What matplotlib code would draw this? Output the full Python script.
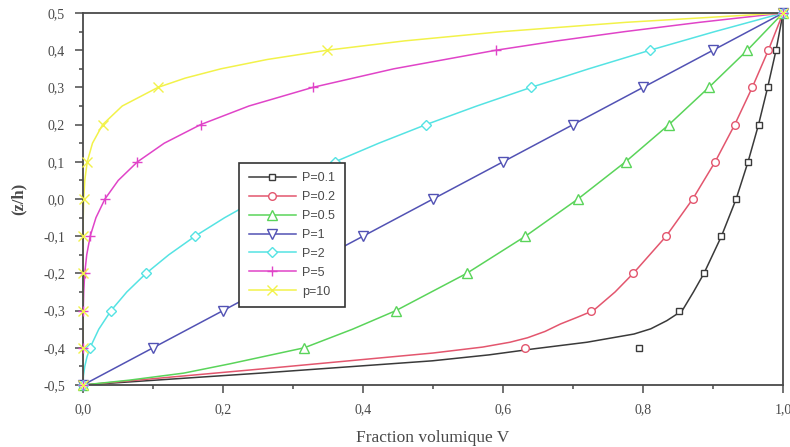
"""Through-thickness volume fraction profiles V(z/h) for several power-law indices."""
import matplotlib

matplotlib.use("Agg")
import matplotlib.pyplot as plt
from matplotlib.lines import Line2D
from matplotlib.ticker import FuncFormatter, MultipleLocator

# marker positions (every 0.1 in z/h)
z_markers = [-0.5, -0.4, -0.3, -0.2, -0.1, 0.0, 0.1, 0.2, 0.3, 0.4, 0.5]
v_p01_markers = [0.0, 0.794, 0.851, 0.887, 0.912, 0.933, 0.950, 0.965, 0.978, 0.990, 1.0]
v_p02_markers = [0.0, 0.631, 0.725, 0.786, 0.833, 0.871, 0.903, 0.931, 0.956, 0.979, 1.0]
v_p05_markers = [0.0, 0.316, 0.447, 0.548, 0.632, 0.707, 0.775, 0.837, 0.894, 0.949, 1.0]
v_p1_markers = [0.0, 0.1, 0.2, 0.3, 0.4, 0.5, 0.6, 0.7, 0.8, 0.9, 1.0]
v_p2_markers = [0.0, 0.01, 0.04, 0.09, 0.16, 0.25, 0.36, 0.49, 0.64, 0.81, 1.0]
v_p5_markers = [0.0, 0.0, 0.0003, 0.0024, 0.0102, 0.0313, 0.0778, 0.168, 0.328, 0.590, 1.0]
v_p10_markers = [0.0, 0.0, 0.0, 0.0, 0.0001, 0.001, 0.006, 0.028, 0.107, 0.349, 1.0]

# curves
v_p01_line = [0.0, 0.254, 0.499, 0.58, 0.643, 0.72, 0.787, 0.811, 0.834, 0.856, 0.872, 0.887,
              0.912, 0.933, 0.950, 0.965, 0.978, 0.990, 1.0]
z_p01_line = [-0.5, -0.468, -0.435, -0.419, -0.403, -0.385, -0.363, -0.349, -0.327, -0.3, -0.25, -0.2,
              -0.1, 0.0, 0.1, 0.2, 0.3, 0.4, 0.5]
v_p02_line = [0.0, 0.254, 0.5, 0.571, 0.61, 0.635, 0.66, 0.682, 0.706, 0.729, 0.76, 0.786, 0.833,
              0.871, 0.903, 0.931, 0.956, 0.979, 1.0]
z_p02_line = [-0.5, -0.457, -0.414, -0.398, -0.385, -0.373, -0.356, -0.336, -0.318, -0.3, -0.25, -0.2, -0.1,
              0.0, 0.1, 0.2, 0.3, 0.4, 0.5]
v_p05_line = [0.0, 0.066, 0.144, 0.21, 0.316, 0.385, 0.447, 0.548, 0.632, 0.707, 0.775, 0.837, 0.894, 0.949, 1.0]
z_p05_line = [-0.5, -0.487, -0.468, -0.443, -0.4, -0.35, -0.3, -0.2, -0.1, 0.0, 0.1, 0.2, 0.3, 0.4, 0.5]
v_p1_line = [0.0, 1.0]
z_p1_line = [-0.5, 0.5]
v_p2_line = [0.0, 0.0006, 0.0025, 0.0056, 0.01, 0.0225, 0.04, 0.0625, 0.09, 0.1225, 0.16, 0.2025,
             0.25, 0.3025, 0.36, 0.4225, 0.49, 0.5625, 0.64, 0.7225, 0.81, 0.9025, 1.0]
z_p2_line = [-0.5, -0.475, -0.45, -0.425, -0.4, -0.35, -0.3, -0.25, -0.2, -0.15, -0.1, -0.05,
             0.0, 0.05, 0.1, 0.15, 0.2, 0.25, 0.3, 0.35, 0.4, 0.45, 0.5]
v_p5_line = [0.0, 0.0, 0.0003, 0.001, 0.0024, 0.0053, 0.0102, 0.0185, 0.0313, 0.0503, 0.0778, 0.116,
             0.168, 0.237, 0.328, 0.444, 0.590, 0.677, 0.774, 0.881, 1.0]
z_p5_line = [-0.5, -0.4, -0.3, -0.25, -0.2, -0.15, -0.1, -0.05, 0.0, 0.05, 0.1, 0.15,
             0.2, 0.25, 0.3, 0.35, 0.4, 0.425, 0.45, 0.475, 0.5]
v_p10_line = [0.0, 0.0, 0.0, 0.0001, 0.0003, 0.001, 0.0025, 0.006, 0.0135, 0.028, 0.056, 0.107,
              0.146, 0.197, 0.263, 0.349, 0.459, 0.599, 0.776, 1.0]
z_p10_line = [-0.5, -0.3, -0.2, -0.1, -0.05, 0.0, 0.05, 0.1, 0.15, 0.2, 0.25, 0.3,
              0.325, 0.35, 0.375, 0.4, 0.425, 0.45, 0.475, 0.5]

labels = ["P=0.1", "P=0.2", "P=0.5", "P=1", "P=2", "P=5", "p=10"]
colors = ["#3a3a3a", "#e3566e", "#5ad45a", "#5252b4", "#55e3e3", "#e044c8", "#f2f24a"]
markers = ["s", "o", "^", "v", "D", "+", "x"]
marker_sizes = [5, 5.5, 6.5, 6.5, 5.5, 7, 7]

GRAY = "#4a4a4a"


def comma(x, _pos):
    return f"{x:.1f}".replace(".", ",").replace("-0,0", "0,0")


def main() -> None:
    fig = plt.figure(figsize=(7.9, 4.47), dpi=100)
    ax = fig.add_axes([0.1051, 0.1387, 0.8861, 0.8322])

    series = [
        (v_p01_line, z_p01_line, v_p01_markers),
        (v_p02_line, z_p02_line, v_p02_markers),
        (v_p05_line, z_p05_line, v_p05_markers),
        (v_p1_line, z_p1_line, v_p1_markers),
        (v_p2_line, z_p2_line, v_p2_markers),
        (v_p5_line, z_p5_line, v_p5_markers),
        (v_p10_line, z_p10_line, v_p10_markers),
    ]
    handles = []
    for (vl, zl, vm), lab, c, m, ms in zip(series, labels, colors, markers, marker_sizes):
        ax.plot(vl, zl, color=c, linewidth=1.1, zorder=2)
        ax.plot(vm, z_markers, linestyle="none", marker=m, markersize=ms, color=c,
                markerfacecolor="white", markeredgewidth=1.0, clip_on=False, zorder=3)
        handles.append(Line2D([], [], color=c, linewidth=1.1, marker=m, markersize=ms,
                              markerfacecolor="white", markeredgewidth=1.0, label=lab))

    ax.set_xlim(0, 1)
    ax.set_ylim(-0.5, 0.5)
    ax.xaxis.set_major_locator(MultipleLocator(0.2))
    ax.xaxis.set_minor_locator(MultipleLocator(0.1))
    ax.yaxis.set_major_locator(MultipleLocator(0.1))
    ax.yaxis.set_minor_locator(MultipleLocator(0.05))
    ax.xaxis.set_major_formatter(FuncFormatter(comma))
    ax.yaxis.set_major_formatter(FuncFormatter(comma))
    ax.tick_params(which="both", direction="out", color=GRAY, width=1.1,
                   labelcolor=GRAY, labelsize=10)
    ax.tick_params(which="major", length=6, pad=7)
    ax.tick_params(which="minor", length=3)
    for lab in ax.get_xticklabels() + ax.get_yticklabels():
        lab.set_fontfamily("Liberation Serif")
    for sp in ax.spines.values():
        sp.set_color(GRAY)
        sp.set_linewidth(1.3)

    ax.set_xlabel("Fraction volumique V", family="Liberation Serif", fontsize=12.5,
                  color=GRAY, labelpad=10)
    ax.set_ylabel("(z/h)", family="Liberation Serif", fontsize=12, fontweight="bold",
                  color=GRAY, labelpad=12)

    leg = ax.legend(handles=handles, loc="upper left", bbox_to_anchor=(0.223, 0.597),
                    prop={"family": "Liberation Sans", "size": 9}, handlelength=3.8,
                    labelspacing=0.55, borderpad=0.75, handletextpad=0.5,
                    fancybox=False, framealpha=1.0, borderaxespad=0)
    leg.get_frame().set_edgecolor("#333333")
    leg.get_frame().set_linewidth(1.2)
    for t in leg.get_texts():
        t.set_color(GRAY)

    fig.savefig("out.png", dpi=100)
    plt.close(fig)


if __name__ == "__main__":
    main()
